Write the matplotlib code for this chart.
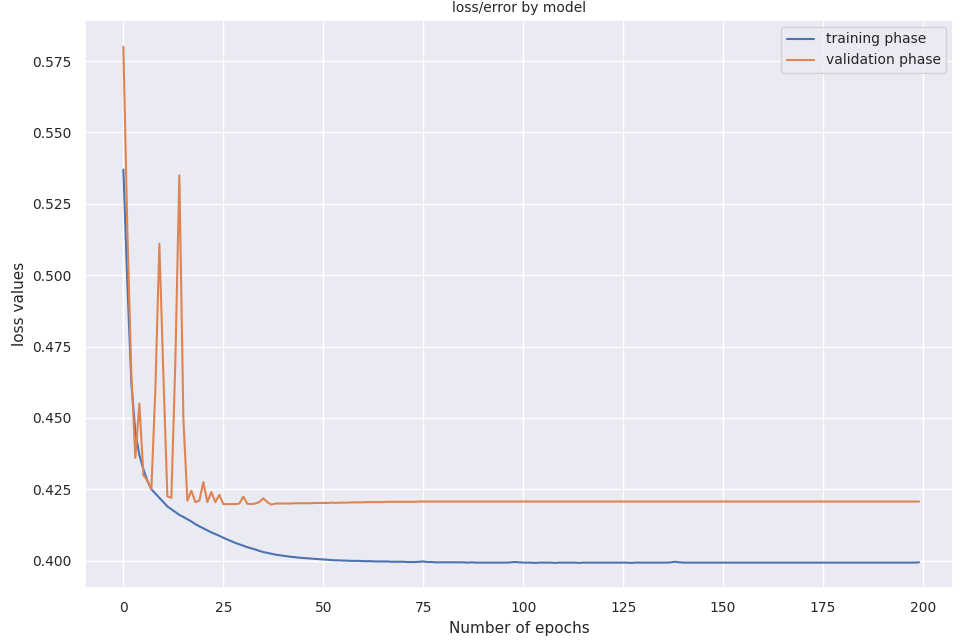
import matplotlib
matplotlib.use("Agg")
import matplotlib.pyplot as plt
import seaborn as sns

sns.set_theme(style="darkgrid")
plt.rcParams['font.family'] = ['DejaVu Sans']

title = "loss/error by model"
x_label = "Number of epochs"
y_label = "loss values"
series_names = ["training phase", "validation phase"]

training = [
    0.537, 0.497, 0.462, 0.445, 0.437, 0.432, 0.428, 0.425, 0.4235, 0.422,
    0.4205, 0.419, 0.418, 0.417, 0.416, 0.4153, 0.4145, 0.4137, 0.4128, 0.412,
    0.4113, 0.4106, 0.4099, 0.4093, 0.4087, 0.4080, 0.4074, 0.4068, 0.4062, 0.4057,
    0.4052, 0.4047, 0.4043, 0.4039, 0.4034, 0.4030, 0.4027, 0.4024, 0.4021, 0.4019,
    0.4017, 0.4015, 0.4013, 0.4012, 0.4010, 0.4009, 0.4008, 0.4007, 0.4006, 0.4005,
    0.4004, 0.4003, 0.4002, 0.4001, 0.4001, 0.4000, 0.4000, 0.3999, 0.3999, 0.3999,
    0.3998, 0.3998, 0.3998, 0.3997, 0.3997, 0.3997, 0.3997, 0.3996, 0.3996, 0.3996,
    0.3996, 0.3995, 0.3995, 0.3995, 0.3996, 0.3997, 0.3995, 0.3995, 0.3994, 0.3994,
    0.3994, 0.3994, 0.3994, 0.3994, 0.3994, 0.3994, 0.3993, 0.3994, 0.3993, 0.3993,
    0.3993, 0.3993, 0.3993, 0.3993, 0.3993, 0.3993, 0.3993, 0.3994, 0.3995, 0.3994,
    0.3993, 0.3993, 0.3993, 0.3992, 0.3993, 0.3993, 0.3993, 0.3993, 0.3992, 0.3993,
    0.3993, 0.3993, 0.3993, 0.3993, 0.3992, 0.3993, 0.3993, 0.3993, 0.3993, 0.3993,
    0.3993, 0.3993, 0.3993, 0.3993, 0.3993, 0.3993, 0.3993, 0.3992, 0.3993, 0.3993,
    0.3993, 0.3993, 0.3993, 0.3993, 0.3993, 0.3993, 0.3993, 0.3994, 0.3996, 0.3994,
    0.3993, 0.3993, 0.3993, 0.3993, 0.3993, 0.3993, 0.3993, 0.3993, 0.3993, 0.3993,
    0.3993, 0.3993, 0.3993, 0.3993, 0.3993, 0.3993, 0.3993, 0.3993, 0.3993, 0.3993,
    0.3993, 0.3993, 0.3993, 0.3993, 0.3993, 0.3993, 0.3993, 0.3993, 0.3993, 0.3993,
    0.3993, 0.3993, 0.3993, 0.3993, 0.3993, 0.3993, 0.3993, 0.3993, 0.3993, 0.3993,
    0.3993, 0.3993, 0.3993, 0.3993, 0.3993, 0.3993, 0.3993, 0.3993, 0.3993, 0.3993,
    0.3993, 0.3993, 0.3993, 0.3993, 0.3993, 0.3993, 0.3993, 0.3993, 0.3993, 0.3994,
]

validation = [
    0.580, 0.515, 0.465, 0.436, 0.455, 0.430, 0.428, 0.425, 0.460, 0.511,
    0.465, 0.4225, 0.422, 0.470, 0.535, 0.450, 0.421, 0.4245, 0.4205, 0.421,
    0.4275, 0.4205, 0.424, 0.4205, 0.423, 0.4198, 0.4198, 0.4198, 0.4198, 0.4200,
    0.4224, 0.4199, 0.4198, 0.4200, 0.4205, 0.4218, 0.4205, 0.4196, 0.4200, 0.4200,
    0.4200, 0.4200, 0.4200, 0.4201, 0.4201, 0.4201, 0.4201, 0.4201, 0.4202, 0.4202,
    0.4202, 0.4202, 0.4203, 0.4202, 0.4203, 0.4203, 0.4203, 0.4204, 0.4204, 0.4204,
    0.4204, 0.4205, 0.4205, 0.4205, 0.4205, 0.4205, 0.4206, 0.4206, 0.4206, 0.4206,
    0.4206, 0.4206, 0.4206, 0.4206, 0.4207, 0.4207, 0.4207, 0.4207, 0.4207, 0.4207,
    0.4207, 0.4207, 0.4207, 0.4207, 0.4207, 0.4207, 0.4207, 0.4207, 0.4207, 0.4207,
    0.4207, 0.4207, 0.4207, 0.4207, 0.4207, 0.4207, 0.4207, 0.4207, 0.4207, 0.4207,
    0.4207, 0.4207, 0.4207, 0.4207, 0.4207, 0.4207, 0.4207, 0.4207, 0.4207, 0.4207,
    0.4207, 0.4207, 0.4207, 0.4207, 0.4207, 0.4207, 0.4207, 0.4207, 0.4207, 0.4207,
    0.4207, 0.4207, 0.4207, 0.4207, 0.4207, 0.4207, 0.4207, 0.4207, 0.4207, 0.4207,
    0.4207, 0.4207, 0.4207, 0.4207, 0.4207, 0.4207, 0.4207, 0.4207, 0.4207, 0.4207,
    0.4207, 0.4207, 0.4207, 0.4207, 0.4207, 0.4207, 0.4207, 0.4207, 0.4207, 0.4207,
    0.4207, 0.4207, 0.4207, 0.4207, 0.4207, 0.4207, 0.4207, 0.4207, 0.4207, 0.4207,
    0.4207, 0.4207, 0.4207, 0.4207, 0.4207, 0.4207, 0.4207, 0.4207, 0.4207, 0.4207,
    0.4207, 0.4207, 0.4207, 0.4207, 0.4207, 0.4207, 0.4207, 0.4207, 0.4207, 0.4207,
    0.4207, 0.4207, 0.4207, 0.4207, 0.4207, 0.4207, 0.4207, 0.4207, 0.4207, 0.4207,
    0.4207, 0.4207, 0.4207, 0.4207, 0.4207, 0.4207, 0.4207, 0.4207, 0.4207, 0.4207,
]

epochs = list(range(len(training)))

fig = plt.figure(figsize=(9.6, 6.42), dpi=100)
ax = fig.add_axes([85 / 960, 54 / 642, (953 - 85) / 960, (588 - 20) / 642])

ax.plot(epochs, training, color="#4c72b0", linewidth=1.5, label=series_names[0])
ax.plot(epochs, validation, color="#dd8452", linewidth=1.5, label=series_names[1])

ax.set_xlim(-9.6, 207.5)
ax.set_xticks([0, 25, 50, 75, 100, 125, 150, 175, 200])
ax.set_yticks([0.400, 0.425, 0.450, 0.475, 0.500, 0.525, 0.550, 0.575])
ax.set_ylim(0.3904, 0.5894)

ax.set_title(title, fontsize=10, color="#262626")
ax.set_xlabel(x_label, fontsize=11, labelpad=4)
ax.set_ylabel(y_label, fontsize=11)
ax.tick_params(axis="both", labelsize=10)
ax.legend(loc="upper right", fontsize=10)

fig.savefig("out.png", dpi=100)
